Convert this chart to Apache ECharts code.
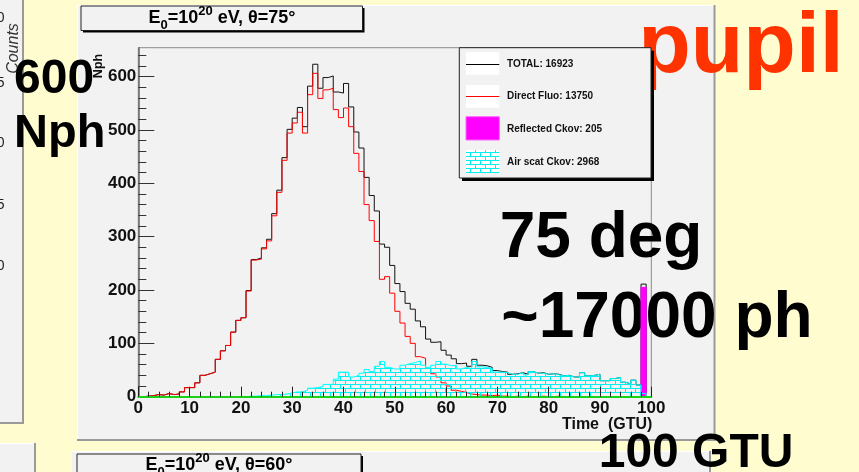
<!DOCTYPE html>
<html>
<head>
<meta charset="utf-8">
<script src="https://cdn.jsdelivr.net/npm/echarts@6/dist/echarts.min.js"></script>
<style>
  html, body { margin: 0; padding: 0; background: #fffdd0; }
  #chart { width: 859px; height: 472px; }
</style>
</head>
<body>
<div id="chart"></div>
<script>
// Histogram bins: 100 bins of 1 GTU, low edges 0..99
const timeBins = Array.from({ length: 100 }, (_, i) => i);

// Photon counts per GTU bin
const totalCounts = [
  0, 1, 2, 4, 3, 6, 4, 5, 9, 17,
  17, 26, 40, 43, 46, 70, 86, 96, 121, 143,
  148, 199, 257, 260, 279, 295, 343, 387, 448, 501,
  522, 542, 506, 582, 623, 578, 598, 601, 571, 569,
  587, 543, 496, 466, 411, 377, 348, 286, 280, 246,
  212, 197, 175, 164, 142, 131, 108, 102, 103, 87,
  78, 71, 62, 63, 57, 70, 59, 58, 55, 49,
  47, 46, 42, 43, 45, 42, 47, 44, 45, 42,
  43, 42, 39, 40, 37, 37, 45, 39, 40, 42,
  30, 30, 34, 36, 27, 24, 31, 22, 211, 0
];
const directFluo = [
  0, 1, 2, 4, 3, 6, 4, 5, 9, 17,
  17, 26, 40, 43, 46, 70, 86, 96, 121, 143,
  148, 198, 256, 258, 277, 292, 339, 383, 443, 494,
  513, 533, 494, 566, 606, 559, 575, 578, 538, 523,
  541, 506, 456, 422, 360, 330, 291, 220, 225, 194,
  160, 138, 113, 100, 75, 72, 53, 43, 37, 26,
  20, 12, 10, 8, 5, 4, 3, 3, 2, 3,
  1, 1, 0, 1, 0, 1, 0, 0, 1, 0,
  0, 1, 0, 0, 0, 0, 0, 0, 0, 0,
  0, 0, 0, 0, 0, 0, 0, 0, 0, 0
];
const reflectedCkov = [
  0, 0, 0, 0, 0, 0, 0, 0, 0, 0,
  0, 0, 0, 0, 0, 0, 0, 0, 0, 0,
  0, 0, 0, 0, 0, 0, 0, 0, 0, 0,
  0, 0, 0, 0, 0, 0, 0, 0, 0, 0,
  0, 0, 0, 0, 0, 0, 0, 0, 0, 0,
  0, 0, 0, 0, 0, 0, 0, 0, 0, 0,
  0, 0, 0, 0, 0, 0, 0, 0, 0, 0,
  0, 0, 0, 0, 0, 0, 0, 0, 0, 0,
  0, 0, 0, 0, 0, 0, 0, 0, 0, 0,
  0, 0, 0, 0, 0, 0, 0, 0, 205, 0
];
const airScatCkov = [
  0, 0, 0, 0, 0, 0, 0, 0, 0, 0,
  0, 0, 0, 0, 0, 0, 0, 0, 0, 0,
  0, 1, 1, 2, 2, 3, 4, 4, 5, 7,
  9, 9, 12, 16, 17, 19, 23, 23, 33, 46,
  46, 37, 40, 44, 51, 47, 57, 66, 55, 52,
  52, 59, 62, 64, 67, 59, 55, 59, 66, 61,
  58, 59, 52, 55, 52, 66, 56, 55, 53, 46,
  46, 45, 42, 42, 45, 41, 47, 44, 44, 42,
  43, 41, 39, 40, 37, 37, 45, 39, 40, 42,
  30, 30, 34, 36, 27, 24, 31, 22, 6, 0
];

// Axis ticks
const xTicks = [0, 10, 20, 30, 40, 50, 60, 70, 80, 90, 100];
const yTicks = [0, 100, 200, 300, 400, 500, 600];
const yMinorTicks = [20, 40, 60, 80, 120, 140, 160, 180, 220, 240, 260, 280,
  320, 340, 360, 380, 420, 440, 460, 480, 520, 540, 560, 580, 620, 640];
const yMax = 654;

const FONT = '"Liberation Sans", Arial, Helvetica, sans-serif';
const sum = a => a.reduce((s, v) => s + v, 0);

// Step outline points: one point per bin low edge plus the closing edge
function histPath(values) {
  const pts = values.map((v, i) => [timeBins[i], v]);
  pts.push([timeBins[timeBins.length - 1] + 1, values[values.length - 1]]);
  return pts;
}

// Cyan brick hatch
const brick = document.createElement('canvas');
brick.width = 10; brick.height = 8;
(function () {
  const g = brick.getContext('2d');
  g.strokeStyle = '#00f0f0';
  g.lineWidth = 1;
  g.beginPath();
  g.moveTo(0, 0.5); g.lineTo(10, 0.5);
  g.moveTo(0, 4.5); g.lineTo(10, 4.5);
  g.moveTo(0.5, 0.5); g.lineTo(0.5, 4.5);
  g.moveTo(5.5, 4.5); g.lineTo(5.5, 8);
  g.stroke();
})();
const brickFill = { image: brick, repeat: 'repeat' };

function stepSeries(name, values, color, z, area) {
  const s = {
    name, type: 'line', step: 'end', data: histPath(values),
    symbol: 'none', showSymbol: false, z, silent: true,
    lineStyle: { color, width: 1 },
    xAxisIndex: 0, yAxisIndex: 0
  };
  if (area) s.areaStyle = { color: area, opacity: 1 };
  return s;
}

// Text placement by the visible ink edge and the alphabetic baseline
const measureCtx = document.createElement('canvas').getContext('2d');
function inkText(text, size, inkEdge, baseline, fill, align) {
  align = align || 'left';
  measureCtx.font = 'bold ' + size + 'px ' + FONT;
  measureCtx.textBaseline = 'middle';
  measureCtx.textAlign = align;
  const m = measureCtx.measureText(text);
  const h = measureCtx.measureText('H');
  const y = baseline - h.actualBoundingBoxDescent;
  const x = align === 'left' ? inkEdge + m.actualBoundingBoxLeft : inkEdge - m.actualBoundingBoxRight;
  return {
    type: 'text', z: 1, silent: true,
    style: { text, x, y, fontFamily: FONT, fontWeight: 'bold', fontSize: size,
             fill, align, verticalAlign: 'middle' }
  };
}

const hline = (x1, x2, y, stroke, w, z) => ({ type: 'line', z: z, silent: true,
  shape: { x1, y1: y, x2, y2: y }, style: { stroke, lineWidth: w } });
const vline = (x, y1, y2, stroke, w, z) => ({ type: 'line', z: z, silent: true,
  shape: { x1: x, y1, x2: x, y2 }, style: { stroke, lineWidth: w } });
const rect = (x, y, width, height, style, z) => ({ type: 'rect', z: z, silent: true,
  shape: { x, y, width, height }, style });

const titleRich = {
  m: { fontSize: 18, fontWeight: 'bold', fontFamily: FONT, fill: '#000', lineHeight: 27 },
  sub: { fontSize: 13, fontWeight: 'bold', fontFamily: FONT, fill: '#000', lineHeight: 13, verticalAlign: 'bottom' },
  sup: { fontSize: 13, fontWeight: 'bold', fontFamily: FONT, fill: '#000', lineHeight: 13, verticalAlign: 'top' }
};
function titleBox(x, y, w, h, theta, cx, cy) {
  return [
    rect(x + 2, y + 2, w, h, { fill: '#000' }, 5),
    rect(x, y, w, h, { fill: '#f2f2f2', stroke: '#222', lineWidth: 1 }, 6),
    { type: 'text', z: 7, silent: true,
      style: { text: '{m|E}{sub|0}{m|=10}{sup|20}{m| eV, θ=' + theta + '°}',
               x: cx, y: cy, align: 'center', verticalAlign: 'middle', rich: titleRich } }
  ];
}

const legendLabel = (text, y) => ({ type: 'text', z: 7, silent: true,
  style: { text, x: 507, y, fontFamily: FONT, fontWeight: 'bold', fontSize: 10,
           fill: '#111', align: 'left', verticalAlign: 'middle' } });

const graphics = [
  // left neighbouring canvas
  rect(-2, -2, 25, 425, { fill: '#f2f2f2' }, -10),
  vline(23, 0, 424, '#9a9a9a', 2, -9),
  hline(0, 24, 423, '#9a9a9a', 2, -9),
  { type: 'text', z: -8, silent: true, x: 13.5, y: 48.5, rotation: Math.PI / 2,
    style: { text: 'Counts', x: 0, y: 0, fontFamily: FONT, fontStyle: 'italic', fontSize: 16,
             fill: '#333', align: 'center', verticalAlign: 'middle' } },
  ...[['0', 18], ['5', 83], ['0', 143], ['5', 205], ['0', 266]].map(([t, y]) => ({
    type: 'text', z: -8, silent: true,
    style: { text: t, x: 4.6, y, fontFamily: FONT, fontSize: 14, fill: '#222', align: 'right', verticalAlign: 'middle' }
  })),
  // lower neighbouring canvases
  rect(-2, 443, 37, 40, { fill: '#f2f2f2' }, -10),
  hline(0, 35, 443.5, '#ffffff', 1, -9),
  vline(35, 443, 472, '#9a9a9a', 2, -9),
  rect(72, 451, 638, 30, { fill: '#f2f2f2' }, -10),
  hline(72, 710, 451.5, '#ffffff', 1, -9),
  vline(710, 451, 472, '#9a9a9a', 2, -9),
  ...titleBox(77, 454, 284, 30, 60, 219, 465),
  // main canvas
  rect(77, 5, 638, 435, { fill: '#f2f2f2' }, -10),
  hline(77, 715, 5.5, '#ffffff', 1, -9),
  vline(77.5, 5, 440, '#ffffff', 1, -9),
  vline(714.5, 5, 441, '#9a9a9a', 2, -9),
  hline(77, 716, 440, '#9a9a9a', 2, -9),
  ...titleBox(81, 6, 281.5, 24.5, 75, 222, 18.3),
  // axis titles
  { type: 'text', z: 1, silent: true, x: 99, y: 66, rotation: Math.PI / 2,
    style: { text: 'Nph', x: 0, y: 0, fontFamily: FONT, fontWeight: 'bold', fontSize: 12.5,
             fill: '#111', align: 'center', verticalAlign: 'middle' } },
  inkText('Time  (GTU)', 16, 652, 429.3, '#111', 'right'),
  // legend
  rect(462, 50.7, 192, 130.3, { fill: '#000' }, 5),
  rect(459.3, 47.7, 191.7, 130.3, { fill: '#f2f2f2', stroke: '#222', lineWidth: 1 }, 6),
  rect(466, 52.3, 33.3, 22.4, { fill: '#ffffff' }, 7),
  hline(466, 499.3, 64.5, '#000', 1, 8),
  legendLabel('TOTAL: ' + sum(totalCounts), 64.5),
  rect(466, 85, 33.3, 22.7, { fill: '#ffffff' }, 7),
  hline(466, 499.3, 96.5, '#ff0000', 1, 8),
  legendLabel('Direct Fluo: ' + sum(directFluo), 96.5),
  rect(466, 116.7, 33.3, 23.3, { fill: '#ff00ff', stroke: '#ff66ff', lineWidth: 1 }, 7),
  legendLabel('Reflected Ckov: ' + sum(reflectedCkov), 129.5),
  rect(466, 150, 33.3, 23.3, { fill: '#ffffff' }, 7),
  rect(466, 150, 33.3, 23.3, { fill: brickFill }, 8),
  legendLabel('Air scat Ckov: ' + sum(airScatCkov), 162.5),
  // slide annotations
  inkText('600', 48, 15, 92.7, '#000'),
  inkText('Nph', 47, 17, 147, '#000'),
  inkText('pupil', 86, 643.3, 71.7, '#ff3300'),
  inkText('75 deg', 64, 501.7, 256.7, '#000'),
  inkText('~17000 ph', 64, 503.3, 336.7, '#000'),
  inkText('100 GTU', 48, 601.7, 466.5, '#000')
];

const chart = echarts.init(document.getElementById('chart'), null, { renderer: 'canvas', width: 859, height: 472 });

const option = {
  backgroundColor: '#fffdd0',
  animation: false,
  grid: {
    left: 138.3, top: 47.7, width: 513, height: 349,
    show: true, backgroundColor: 'transparent', borderColor: '#8a8a8a', borderWidth: 1,
    outerBoundsMode: 'none', containLabel: false
  },
  xAxis: {
    type: 'value', min: 0, max: 100, interval: 10, z: 10,
    axisLine: { show: true, onZero: false, lineStyle: { color: '#19d319', width: 2 } },
    axisTick: { show: true, inside: true, length: 10, lineStyle: { color: '#222', width: 1 } },
    minorTick: { show: true, splitNumber: 5, length: 5, lineStyle: { color: '#222', width: 1 } },
    axisLabel: { margin: 3, fontFamily: FONT, fontWeight: 'bold', fontSize: 17, color: '#111',
                 customValues: xTicks, showMinLabel: true, showMaxLabel: true, hideOverlap: false },
    splitLine: { show: false }, minorSplitLine: { show: false }
  },
  yAxis: [
    {
      type: 'value', min: 0, max: yMax, position: 'left', z: 3,
      axisLine: { show: true, lineStyle: { color: '#6e6e6e', width: 1.6 } },
      axisTick: { show: true, inside: true, length: 16, customValues: yTicks, lineStyle: { color: '#333', width: 1 } },
      axisLabel: { margin: 2, fontFamily: FONT, fontWeight: 'bold', fontSize: 17, color: '#111',
                   customValues: yTicks, hideOverlap: false },
      splitLine: { show: false }, minorTick: { show: false }
    },
    {
      type: 'value', min: 0, max: yMax, position: 'left', offset: 0, z: 3,
      axisLine: { show: false },
      axisTick: { show: true, inside: true, length: 8, customValues: yMinorTicks, lineStyle: { color: '#333', width: 1 } },
      axisLabel: { show: false },
      splitLine: { show: false }
    }
  ],
  series: [
    stepSeries('TOTAL', totalCounts, '#111111', 2),
    stepSeries('Direct Fluo', directFluo, '#ff0000', 3),
    stepSeries('Reflected Ckov', reflectedCkov, '#ff00ff', 4, '#ff00ff'),
    stepSeries('Air scat Ckov', airScatCkov, '#00ffff', 5, brickFill)
  ],
  graphic: { elements: graphics }
};

chart.setOption(option);
</script>
</body>
</html>
